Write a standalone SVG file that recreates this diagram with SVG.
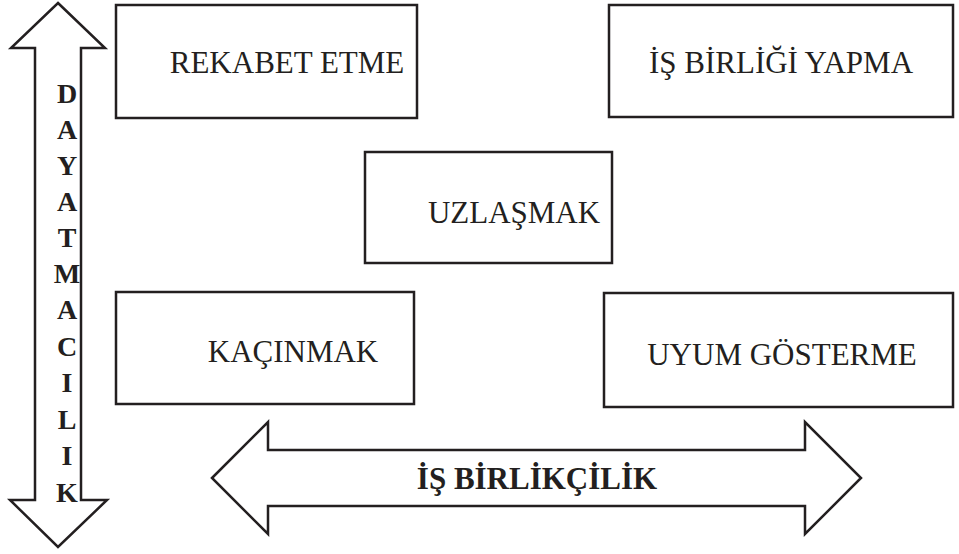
<svg xmlns="http://www.w3.org/2000/svg" width="959" height="554" viewBox="0 0 959 554">
<style>
.box{fill:#fff;stroke:#231f20;stroke-width:2.5}
.arr{fill:#fff;stroke:#231f20;stroke-width:2.5;stroke-linejoin:miter}
.t{font-family:"Liberation Serif","Times New Roman",serif;font-size:31px;fill:#231f20;text-anchor:middle}
.b{font-family:"Liberation Serif","Times New Roman",serif;font-size:28px;font-weight:bold;fill:#231f20;text-anchor:middle}
</style>
<rect width="959" height="554" fill="#fff"/>
<g id="connectors">
<g id="vertical-arrow">
<polygon class="arr" points="58,3 105,48 81,48 81,500 107,500 58,547 10,500 35,500 35,48 11,48"/>
<text class="b"><tspan x="67" y="103">D</tspan><tspan x="67" y="139">A</tspan><tspan x="67" y="175">Y</tspan><tspan x="67" y="211">A</tspan><tspan x="67" y="247">T</tspan><tspan x="67" y="283">M</tspan><tspan x="67" y="319">A</tspan><tspan x="67" y="356">C</tspan><tspan x="67" y="392">I</tspan><tspan x="67" y="429">L</tspan><tspan x="67" y="465">I</tspan><tspan x="67" y="502">K</tspan></text>
</g>
<g id="horizontal-arrow">
<polygon class="arr" points="212,478 268,422 268,450 805,450 805,422 861,478 805,534 805,506 268,506 268,534"/>
<text class="b" x="537" y="489" style="font-size:31px">İŞ BİRLİKÇİLİK</text>
</g>
</g>
<g id="rekabet">
<rect class="box" x="116" y="5" width="301" height="113"/>
<text class="t" x="287" y="73">REKABET ETME</text>
</g>
<g id="isbirligi">
<rect class="box" x="609" y="5" width="344" height="112"/>
<text class="t" x="781" y="73">İŞ BİRLİĞİ YAPMA</text>
</g>
<g id="uzlasmak">
<rect class="box" x="365" y="152" width="247" height="111"/>
<text class="t" x="514" y="223">UZLAŞMAK</text>
</g>
<g id="kacinmak">
<rect class="box" x="116" y="292" width="298" height="112"/>
<text class="t" x="293" y="362">KAÇINMAK</text>
</g>
<g id="uyum">
<rect class="box" x="604" y="293" width="349" height="114"/>
<text class="t" x="782" y="365">UYUM GÖSTERME</text>
</g>
</svg>
